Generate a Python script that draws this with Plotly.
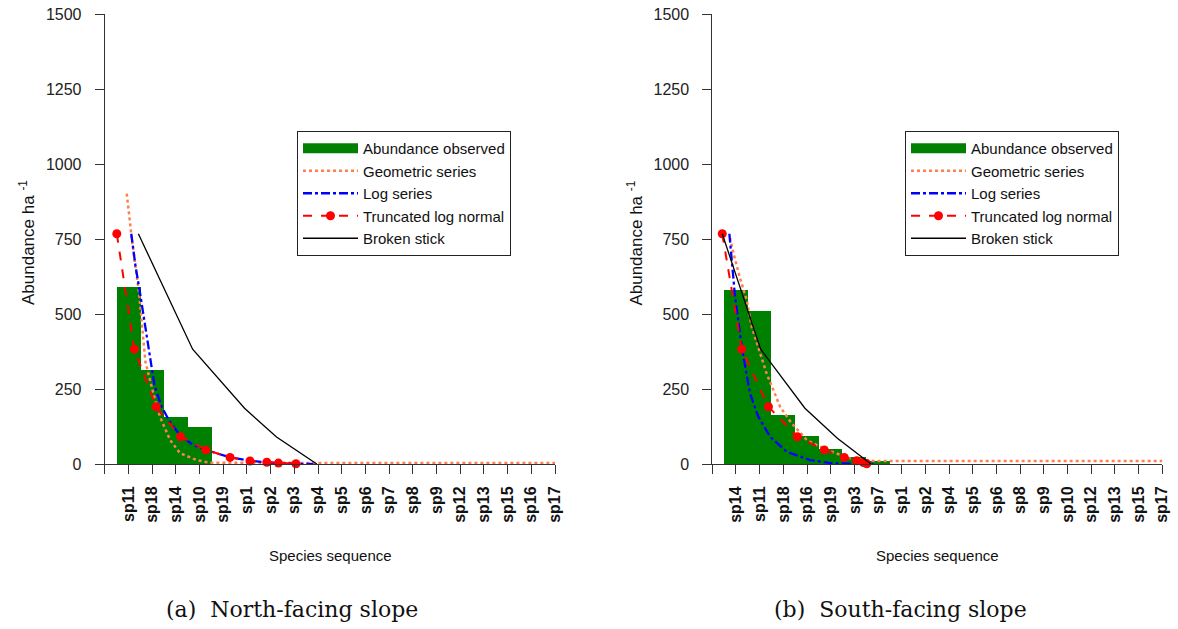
import plotly.graph_objects as go

# ---------------- data ----------------
species_n = ["sp11", "sp18", "sp14", "sp10", "sp19", "sp1", "sp2", "sp3", "sp4", "sp5",
             "sp6", "sp7", "sp8", "sp9", "sp12", "sp13", "sp15", "sp16", "sp17"]
obs_n = [588, 313, 155, 121, 0, 0, 0, 0, 0, 0, 0, 0, 0, 0, 0, 0, 0, 0, 0]

geom_n_x = [0.93, 1.16, 1.45, 1.6, 1.72, 2.05, 2.33, 2.76, 3.18, 3.88, 4.44, 19]
geom_n_y = [902, 740, 570, 440, 340, 236, 158, 80, 36, 13, 4, 3]
log_n_x = [1.12, 1.3, 1.49, 1.73, 1.91, 2.1, 2.4, 2.75, 3.19, 3.7, 4.26, 5.29, 6.16, 6.84, 8.0, 8.8]
log_n_y = [768, 660, 571, 448, 347, 262, 192, 140, 95, 65, 47, 22, 11, 5, 1, 0]
tln_n_x = [0.51, 1.25, 2.17, 3.2, 4.27, 5.29, 6.13, 6.84, 7.33, 8.07]
tln_n_y = [768, 383, 191, 91, 47, 22, 10, 6, 3, 1]
bs_n_x = [1.42, 3.71, 5.9, 7.25, 8.95]
bs_n_y = [768, 383, 186, 90, 0]

species_s = ["sp14", "sp11", "sp18", "sp16", "sp19", "sp3", "sp7", "sp1", "sp2", "sp4",
             "sp5", "sp6", "sp8", "sp9", "sp10", "sp12", "sp13", "sp15", "sp17"]
obs_s = [580, 510, 163, 91, 50, 22, 10, 0, 0, 0, 0, 0, 0, 0, 0, 0, 0, 0, 0]

geom_s_x = [0.75, 0.89, 1.17, 1.45, 1.66, 2.01, 2.3, 2.58, 2.86, 3.35, 3.99, 4.83, 5.81, 6.8, 19]
geom_s_y = [754, 704, 620, 548, 459, 370, 300, 247, 191, 136, 80, 47, 19, 10, 10]
log_s_x = [0.72, 0.96, 1.24, 1.59, 1.94, 2.44, 3.14, 4.13, 5.11, 6.8]
log_s_y = [768, 559, 392, 236, 158, 91, 41, 13, 2, 0]
tln_s_x = [0.42, 1.24, 2.37, 3.59, 4.73, 5.57, 6.1, 6.38, 6.52]
tln_s_y = [768, 383, 191, 91, 47, 22, 11, 5, 1]
bs_s_x = [0.42, 2.04, 3.91, 5.28, 6.7]
bs_s_y = [768, 383, 186, 86, 0]

y_ticks = [0, 250, 500, 750, 1000, 1250, 1500]

# ---------------- style ----------------
GREEN = "#008000"
ORANGE = "#FF7F50"
BLUE = "#0000FF"
RED = "#FF0000"
AXC = "#333333"
SANS = "Liberation Sans"
W, H = 1178, 629


def px(x):
    return x / W


def py(y):
    return 1 - y / H


fig = go.Figure()

panels = [
    ("x", "y", "legend", species_n, obs_n, geom_n_x, geom_n_y, log_n_x, log_n_y,
     tln_n_x, tln_n_y, bs_n_x, bs_n_y),
    ("x2", "y2", "legend2", species_s, obs_s, geom_s_x, geom_s_y, log_s_x, log_s_y,
     tln_s_x, tln_s_y, bs_s_x, bs_s_y),
]

for (xa, ya, lg, sp, obs, gx, gy, lx, ly, tx, ty, bx, by) in panels:
    pos = list(range(1, len(sp) + 1))
    fig.add_trace(go.Bar(x=pos, y=obs, width=1, marker=dict(color=GREEN, line=dict(width=0)),
                         xaxis=xa, yaxis=ya, showlegend=False, legend=lg))
    # legend swatch for the bars (wide rectangle like the original)
    fig.add_trace(go.Scatter(x=[None], y=[None], mode="lines", name="Abundance observed",
                             line=dict(color=GREEN, width=14), xaxis=xa, yaxis=ya, legend=lg))
    fig.add_trace(go.Scatter(x=gx, y=gy, mode="lines", name="Geometric series",
                             line=dict(color=ORANGE, width=2.5, dash="dot"),
                             xaxis=xa, yaxis=ya, legend=lg))
    fig.add_trace(go.Scatter(x=lx, y=ly, mode="lines", name="Log series",
                             line=dict(color=BLUE, width=2.3, dash="dashdot"),
                             xaxis=xa, yaxis=ya, legend=lg))
    fig.add_trace(go.Scatter(x=tx, y=ty, mode="lines+markers", name="Truncated log normal",
                             line=dict(color=RED, width=2, dash="dash"),
                             marker=dict(color=RED, size=9), cliponaxis=False,
                             xaxis=xa, yaxis=ya, legend=lg))
    fig.add_trace(go.Scatter(x=bx, y=by, mode="lines", name="Broken stick",
                             line=dict(color="black", width=1.3),
                             xaxis=xa, yaxis=ya, legend=lg))


def xaxis_cfg(domain, sp):
    return dict(domain=domain, range=[0, 19], tickvals=list(range(len(sp) + 1)),
                ticktext=[""] + sp, tickangle=-90, ticks="outside", ticklen=9,
                tickcolor=AXC, showline=True, linecolor=AXC, linewidth=1,
                showgrid=False, zeroline=False, ticklabelstandoff=6, automargin=False,
                ticklabeloverflow="allow",
                tickfont=dict(family=SANS, size=16, color="#111111", weight="bold"))


def yaxis_cfg(anchor):
    return dict(domain=[py(464), py(14.3)], range=[0, 1500], tickvals=y_ticks,
                ticks="outside", ticklen=9, tickcolor=AXC, showline=True, linecolor=AXC,
                linewidth=1, showgrid=False, zeroline=False, anchor=anchor,
                ticklabelstandoff=10, automargin=False, ticklabeloverflow="allow",
                tickfont=dict(family=SANS, size=16, color="#222222"))


legend_common = dict(bgcolor="white", bordercolor="#222222", borderwidth=1,
                     font=dict(family=SANS, size=15, color="#111111"),
                     xanchor="left", yanchor="top", tracegroupgap=0, itemwidth=55)

fig.update_layout(
    width=W, height=H, margin=dict(l=0, r=0, t=0, b=0, autoexpand=False),
    plot_bgcolor="white", paper_bgcolor="white", bargap=0,
    xaxis=xaxis_cfg([px(104.7), px(555)], species_n),
    yaxis=dict(yaxis_cfg("x")),
    xaxis2=dict(xaxis_cfg([px(712.3), px(1162.3)], species_s), anchor="y2"),
    yaxis2=dict(yaxis_cfg("x2")),
    legend=dict(legend_common, x=px(297), y=py(131)),
    legend2=dict(legend_common, x=px(905), y=py(131)),
)

annotations = [
    dict(text="Species sequence", x=px(330), y=py(555), size=15),
    dict(text="Species sequence", x=px(937), y=py(555), size=15),
    dict(text="Abundance ha <sup>-1</sup>", x=px(27), y=py(243), textangle=-90, size=17),
    dict(text="Abundance ha <sup>-1</sup>", x=px(634.6), y=py(243), textangle=-90, size=17),
]
for a in annotations:
    sz = a.pop("size")
    fig.add_annotation(xref="paper", yref="paper", showarrow=False,
                       xanchor="center", yanchor="middle",
                       font=dict(family=SANS, size=sz, color="#111111"), **a)

for txt, cx in [("(a)  North-facing slope", 292), ("(b)  South-facing slope", 900)]:
    fig.add_annotation(xref="paper", yref="paper", showarrow=False, text=txt,
                       x=px(cx), y=py(609), xanchor="center", yanchor="middle",
                       font=dict(family="DejaVu Serif", size=22, color="#111111"))

# remove the default 8px page margin so the figure fills the window exactly
fig.write_html("out.html", config={"displayModeBar": False},
               post_script="document.body.style.margin='0';document.body.style.overflow='hidden';")
